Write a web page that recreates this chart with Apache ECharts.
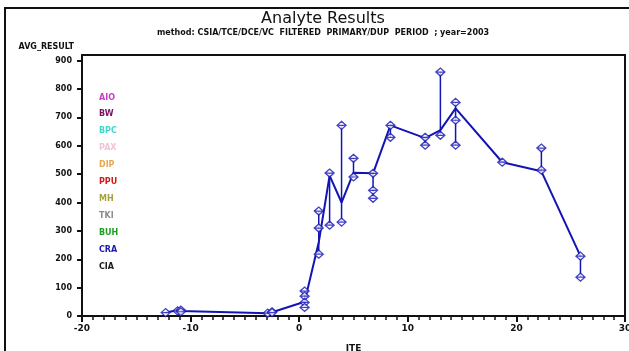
<!DOCTYPE html>
<html>
<head>
<meta charset="utf-8">
<script src="https://cdn.jsdelivr.net/npm/echarts@6/dist/echarts.min.js"></script>
<style>html,body{margin:0;padding:0;background:#fff;}#c{width:629px;height:351px;}</style>
</head>
<body>
<div id="c"></div>
<script>
// ---- data ----
const sites = ['AIO','BW','BPC','PAX','DIP','PPU','MH','TKI','BUH','CRA','CIA'];
const dataSite = 'CRA';
const sampleX = [-12.3,-11.2,-10.9,-10.9,-2.9,-2.5,-2.5,0.5,0.5,0.5,0.5,1.8,1.8,1.8,2.8,2.8,3.9,3.9,5.0,5.0,6.8,6.8,6.8,8.4,8.4,11.6,11.6,13.0,13.0,14.4,14.4,14.4,18.7,22.3,22.3,25.9,25.9];
const sampleY = [12,18,21,15,10,15,12,88,70,48,30,370,310,218,504,320,672,331,556,490,503,443,415,672,630,630,602,860,637,753,690,602,542,592,514,211,137];
const trendX = [-12.3,-11.2,-10.9,-2.9,-2.5,0.5,1.8,2.8,3.9,5.0,6.8,8.4,11.6,13.0,14.4,18.7,22.3,25.9];
const trendY = [12,20,18,10,13,50,260,495,400,505,503,672,627,655,732,542,510,211];
const xTicks = [-20,-10,0,10,20,30];
const yTicks = [0,100,200,300,400,500,600,700,800,900];

// ---- styles ----
const siteColors = ['#c83cc8','#7a1462','#3cd8d0','#f0c4d8','#e8a84a','#d01a1a','#a8a040','#8c8c8c','#1e9e1e','#1a1ab0','#1a1a1a'];
const blue = '#1414b4';

// range (min/max) per sample x, derived from samples
const groups = {};
sampleX.forEach((x, i) => {
  const k = String(x);
  if (!groups[k]) groups[k] = [x, sampleY[i], sampleY[i]];
  groups[k][1] = Math.min(groups[k][1], sampleY[i]);
  groups[k][2] = Math.max(groups[k][2], sampleY[i]);
});
const ranges = Object.values(groups).filter(g => g[2] > g[1]);

const chart = echarts.init(document.getElementById('c'), null, {renderer: 'canvas'});
const series = [];
sites.forEach((s, i) => {
  if (s !== dataSite) {
    series.push({name: s, type: 'line', data: [], itemStyle: {color: siteColors[i]}});
  }
});
series.push({
  name: dataSite, type: 'custom', z: 2,
  data: ranges,
  renderItem: function (params, api) {
    const p1 = api.coord([api.value(0), api.value(1)]);
    const p2 = api.coord([api.value(0), api.value(2)]);
    return {type: 'line', shape: {x1: p1[0], y1: p1[1], x2: p2[0], y2: p2[1]},
      style: {stroke: blue, lineWidth: 1.5}};
  }
});
series.push({
  name: dataSite, type: 'line', z: 3,
  data: trendX.map((x, i) => [x, trendY[i]]),
  symbol: 'none', lineStyle: {color: blue, width: 2}, itemStyle: {color: blue}
});
series.push({
  name: dataSite, type: 'scatter', z: 4,
  data: sampleX.map((x, i) => [x, sampleY[i]]),
  symbol: 'path://M0,5 L5,0 L10,5 L5,10 Z M0,5 L10,5',
  symbolSize: [9, 8],
  itemStyle: {color: '#ffffff', borderColor: blue, borderWidth: 1.3}
});

chart.setOption({
  animation: false,
  backgroundColor: '#ffffff',
  textStyle: {fontFamily: 'DejaVu Sans'},
  title: {
    text: 'Analyte Results',
    subtext: 'method: CSIA/TCE/DCE/VC  FILTERED  PRIMARY/DUP  PERIOD  ; year=2003',
    left: 318, top: 6, textAlign: 'center', itemGap: 2,
    textStyle: {fontSize: 16, fontWeight: 'normal', color: '#111', fontFamily: 'DejaVu Sans'},
    subtextStyle: {fontSize: 8, fontWeight: 'bold', color: '#111', fontFamily: 'DejaVu Sans'}
  },
  legend: {
    orient: 'vertical', left: 94, top: 88, itemGap: 8.4, itemWidth: 0, itemHeight: 9,
    icon: 'none', selectedMode: false,
    data: sites.map((s, i) => ({name: s, textStyle: {color: siteColors[i]}})),
    textStyle: {fontSize: 8, fontWeight: 'bold', fontFamily: 'DejaVu Sans', padding: [0,0,0,-5]}
  },
  graphic: [{
    type: 'rect', shape: {x: 5, y: 8, width: 700, height: 400},
    style: {fill: 'none', stroke: '#111', lineWidth: 2}, silent: true, z: 0
  }],
  grid: {left: 82, right: 4, top: 55, bottom: 35, outerBoundsMode: 'none', containLabel: false,
    show: true, borderColor: '#111', borderWidth: 2, backgroundColor: 'transparent'},
  xAxis: {
    type: 'value', min: xTicks[0], max: xTicks[xTicks.length - 1], interval: 10,
    name: 'ITE', nameLocation: 'middle', nameGap: 28,
    nameTextStyle: {fontSize: 9, fontWeight: 'bold', color: '#111'},
    axisLine: {onZero: false, lineStyle: {color: '#111', width: 2}},
    axisTick: {length: 6, lineStyle: {color: '#111', width: 2}},
    minorTick: {show: true, splitNumber: 10, length: 4, lineStyle: {color: '#111', width: 1.5}},
    axisLabel: {margin: 8, fontSize: 9, fontWeight: 'bold', color: '#111'},
    splitLine: {show: false}
  },
  yAxis: {
    type: 'value', min: 0, max: 920, interval: 100,
    name: 'AVG_RESULT', nameLocation: 'end', nameGap: 4,
    nameTextStyle: {fontSize: 8, fontWeight: 'bold', color: '#111', align: 'right', padding: [0, 8, 0, 0]},
    axisLine: {onZero: false, lineStyle: {color: '#111', width: 2}},
    axisTick: {length: 5, lineStyle: {color: '#111', width: 2}},
    axisLabel: {margin: 10, fontSize: 8, fontWeight: 'bold', color: '#111', showMaxLabel: false,
      formatter: v => (yTicks.indexOf(v) >= 0 ? String(v) : '')},
    splitLine: {show: false}
  },
  series: series
});
</script>
</body>
</html>
